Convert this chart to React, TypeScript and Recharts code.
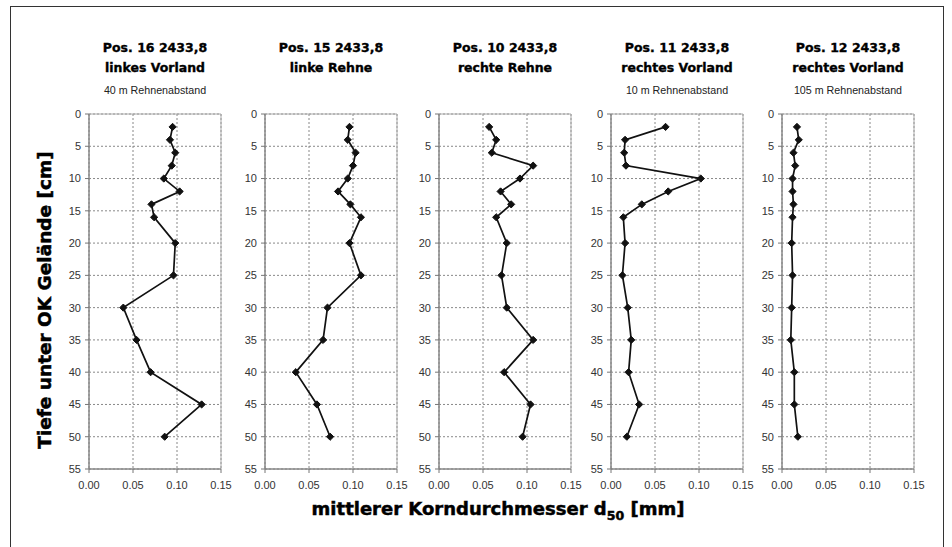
import React from 'react';
import {
  ScatterChart,
  Scatter,
  XAxis,
  YAxis,
  CartesianGrid,
  ReferenceArea,
} from 'recharts';

// Tiefe [cm]
const depths = [2, 4, 6, 8, 10, 12, 14, 16, 20, 25, 30, 35, 40, 45, 50];

// d50 [mm] je Profil
const pos16 = [0.095, 0.092, 0.098, 0.094, 0.085, 0.103, 0.071, 0.074, 0.098, 0.096, 0.039, 0.054, 0.07, 0.128, 0.086];
const pos15 = [0.096, 0.094, 0.103, 0.1, 0.094, 0.083, 0.097, 0.109, 0.096, 0.109, 0.071, 0.066, 0.035, 0.059, 0.074];
const pos10 = [0.057, 0.065, 0.06, 0.107, 0.092, 0.07, 0.082, 0.065, 0.077, 0.071, 0.077, 0.107, 0.074, 0.104, 0.095];
const pos11 = [0.062, 0.016, 0.015, 0.017, 0.102, 0.065, 0.035, 0.014, 0.016, 0.013, 0.019, 0.023, 0.02, 0.032, 0.018];
const pos12 = [0.017, 0.019, 0.013, 0.015, 0.012, 0.012, 0.013, 0.012, 0.011, 0.012, 0.011, 0.01, 0.014, 0.014, 0.018];

const titles = ['Pos. 16 2433,8', 'Pos. 15 2433,8', 'Pos. 10 2433,8', 'Pos. 11 2433,8', 'Pos. 12 2433,8'];
const subtitles = ['linkes Vorland', 'linke Rehne', 'rechte Rehne', 'rechtes Vorland', 'rechtes Vorland'];
const notes = ['40 m Rehnenabstand', '', '', '10 m Rehnenabstand', '105 m Rehnenabstand'];

const xTicks = [0, 0.05, 0.1, 0.15];
const yTicks = [0, 5, 10, 15, 20, 25, 30, 35, 40, 45, 50, 55];

const series = [pos16, pos15, pos10, pos11, pos12];
const plotLefts = [89, 265, 439, 611, 782];
const plotTop = 114;
const plotW = 132;
const plotH = 355;

const tickStyle = { fontFamily: '"Liberation Sans", Arial, sans-serif', fontSize: 11, fill: '#333' };
const boldFont = '"DejaVu Sans", Verdana, sans-serif';
const heavy = { WebkitTextStroke: '0.35px #000' } as React.CSSProperties;

function Diamond(props: any) {
  const { cx, cy } = props;
  const r = 3.6;
  return (
    <polygon
      points={`${cx},${cy - r} ${cx + r},${cy} ${cx},${cy + r} ${cx - r},${cy}`}
      fill="#111"
      stroke="#111"
    />
  );
}

function Profile({ values, left }: { values: number[]; left: number }) {
  const data = depths.map((depth, i) => ({ depth, d50: values[i] }));
  return (
    <div style={{ position: 'absolute', left: left - 40, top: plotTop - 10 }}>
      <ScatterChart
        width={40 + plotW + 18}
        height={plotH + 45}
        margin={{ top: 10, right: 18, left: 10, bottom: 5 }}
      >
        <CartesianGrid stroke="#888" strokeDasharray="2 2" />
        <ReferenceArea x1={0} x2={0.15} y1={0} y2={55} fill="none" stroke="#aaa" strokeWidth={1} />
        <XAxis
          type="number"
          dataKey="d50"
          domain={[0, 0.15]}
          ticks={xTicks}
          tickFormatter={(v: number) => v.toFixed(2)}
          tick={tickStyle}
          tickSize={4}
          tickMargin={8}
          height={30}
          stroke="#777"
          allowDataOverflow
        />
        <YAxis
          type="number"
          dataKey="depth"
          domain={[0, 55]}
          ticks={yTicks}
          reversed
          tick={tickStyle}
          tickSize={4}
          tickMargin={4}
          width={30}
          stroke="#777"
          allowDataOverflow
        />
        <Scatter
          data={data}
          line={{ stroke: '#111', strokeWidth: 1.7 }}
          lineType="joint"
          shape={<Diamond />}
          isAnimationActive={false}
        />
      </ScatterChart>
    </div>
  );
}

export default function App() {
  return (
    <div
      style={{
        position: 'absolute',
        left: 0,
        top: 0,
        width: 952,
        height: 547,
        overflow: 'hidden',
        background: '#fff',
      }}
    >
      <div
        style={{
          position: 'absolute',
          left: 10,
          top: 6,
          width: 934,
          height: 600,
          border: '1px solid #333',
          boxSizing: 'border-box',
        }}
      />
      {series.map((values, i) => {
        const cx = plotLefts[i] + plotW / 2;
        return (
          <React.Fragment key={titles[i]}>
            <div
              style={{
                position: 'absolute',
                left: cx - 90,
                width: 180,
                top: 38,
                lineHeight: '20px',
                textAlign: 'center',
                fontFamily: boldFont,
                fontWeight: 'bold',
                fontSize: 12.5,
                color: '#000',
                ...heavy,
              }}
            >
              {titles[i]}
            </div>
            <div
              style={{
                position: 'absolute',
                left: cx - 90,
                width: 180,
                top: 58,
                lineHeight: '20px',
                textAlign: 'center',
                fontFamily: boldFont,
                fontWeight: 'bold',
                fontSize: 12.5,
                color: '#000',
                ...heavy,
              }}
            >
              {subtitles[i]}
            </div>
            {notes[i] && (
              <div
                style={{
                  position: 'absolute',
                  left: cx - 90,
                  width: 180,
                  top: 82,
                  lineHeight: '16px',
                  textAlign: 'center',
                  fontFamily: '"Liberation Sans", Arial, sans-serif',
                  fontSize: 10.7,
                  color: '#222',
                }}
              >
                {notes[i]}
              </div>
            )}
            <Profile values={values} left={plotLefts[i]} />
          </React.Fragment>
        );
      })}
      <div
        style={{
          position: 'absolute',
          left: 45 - 200,
          top: 300 - 12,
          width: 400,
          lineHeight: '24px',
          textAlign: 'center',
          transform: 'rotate(-90deg)',
          fontFamily: boldFont,
          fontWeight: 'bold',
          fontSize: 18.5,
          color: '#000',
          whiteSpace: 'nowrap',
          WebkitTextStroke: '0.5px #000',
        }}
      >
        Tiefe unter OK Gelände [cm]
      </div>
      <div
        style={{
          position: 'absolute',
          left: 498 - 250,
          top: 500,
          width: 500,
          lineHeight: '18px',
          textAlign: 'center',
          fontFamily: boldFont,
          fontWeight: 'bold',
          fontSize: 18,
          color: '#000',
          whiteSpace: 'nowrap',
          WebkitTextStroke: '0.5px #000',
        }}
      >
        mittlerer Korndurchmesser d
        <span style={{ fontSize: 12.5, position: 'relative', top: 5 }}>50</span> [mm]
      </div>
    </div>
  );
}
